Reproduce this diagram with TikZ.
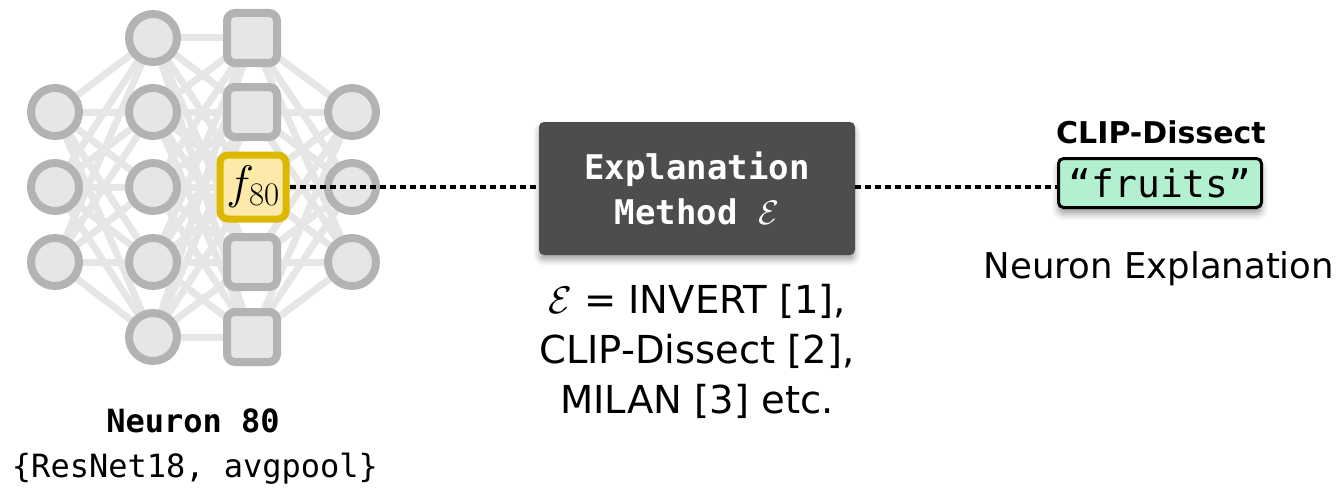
\RequirePackage{fix-cm}
\documentclass[tikz,border=0pt]{standalone}
\usepackage[no-math]{fontspec}
\setmainfont{DejaVu Sans}
\setmonofont{DejaVu Sans Mono}
\usetikzlibrary{shadows.blur}

\definecolor{nodefill}{HTML}{E6E6E6}
\definecolor{nodeline}{HTML}{B3B3B3}
\definecolor{linkgray}{HTML}{E6E6E6}
\definecolor{focusfill}{HTML}{FDE9A9}
\definecolor{focusline}{HTML}{DCB900}
\definecolor{boxgray}{HTML}{4D4D4D}
\definecolor{mint}{HTML}{B2F0D0}

\begin{document}
\begin{tikzpicture}[x=1pt,y=-1pt,
  neuron/.style={circle,draw=nodeline,fill=nodefill,line width=8pt,minimum size=48pt,inner sep=0pt},
  unit/.style={rectangle,rounded corners=8pt,draw=nodeline,fill=nodefill,line width=8pt,minimum size=50pt,inner sep=0pt},
  focus/.style={rectangle,rounded corners=8pt,draw=focusline,fill=focusfill,line width=7pt,
    minimum width=66pt,minimum height=64pt,inner sep=0pt,font=\fontsize{47}{56}\selectfont},
  wire/.style={draw=linkgray,line width=7pt},
  leader/.style={draw=black,line width=4pt,dash pattern=on 6pt off 4pt},
  methodbox/.style={rectangle,rounded corners=5pt,fill=boxgray,minimum width=316pt,minimum height=133pt,
    text=white,align=center,inner sep=0pt,font=\ttfamily\bfseries\fontsize{34}{45}\selectfont,
    blur shadow={shadow xshift=0pt,shadow yshift=-5pt,shadow blur radius=6pt,shadow opacity=35}},
  answer/.style={rectangle,rounded corners=5pt,draw=black,line width=3pt,fill=mint,
    minimum width=203pt,minimum height=49pt,inner sep=0pt,font=\ttfamily\fontsize{38}{46}\selectfont,
    blur shadow={shadow xshift=0pt,shadow yshift=-6pt,shadow blur radius=7pt,shadow opacity=40}},
  caption/.style={anchor=base,inner sep=0pt,font=\fontsize{38.5}{46}\selectfont},
]
\useasboundingbox (0,0) rectangle (1340,487);

% unit positions: input, hidden, probed (avgpool) and output layers
\coordinate (a1) at (55,112);
\coordinate (a2) at (55,187);
\coordinate (a3) at (55,262);
\foreach \j/\y in {1/38,2/112,3/187,4/262,5/337} {
  \coordinate (b\j) at (153,\y);
  \coordinate (c\j) at (252,\y);
}
\coordinate (d1) at (352,112);
\coordinate (d2) at (352,187);
\coordinate (d3) at (352,262);

% fully connected links, drawn first so the units sit on top
\foreach \i in {1,2,3} \foreach \j in {1,...,5} \draw[wire] (a\i) -- (b\j);
\foreach \i in {1,...,5} \foreach \j in {1,...,5} \draw[wire] (b\i) -- (c\j);
\foreach \i in {1,...,5} \foreach \j in {1,2,3} \draw[wire] (c\i) -- (d\j);

% units
\foreach \i in {1,2,3} \node[neuron] (na\i) at (a\i) {};
\foreach \j in {1,...,5} \node[neuron] (nb\j) at (b\j) {};
\foreach \j in {1,2,4,5} \node[unit] (nc\j) at (c\j) {};
\node[focus] (f80) at ([xshift=1pt]c3) {$f_{80}$};
\foreach \i in {1,2,3} \node[neuron] (nd\i) at (d\i) {};

% explanation method
\node[methodbox] (m) at (697,188.5) {Explanation\\Method $\mathcal{E}$};

% resulting explanation
\node[answer] (r) at (1160,183) {“fruits”};
\node[anchor=base,inner sep=0pt,font=\bfseries\fontsize{30}{36}\selectfont] (tag) at (1161,143) {CLIP-Dissect};
\node[anchor=base,inner sep=0pt,font=\fontsize{35.5}{42}\selectfont] (rlabel) at (1159,278) {Neuron Explanation};

% dashed leaders
\draw[leader] (f80.east) -- (f80 -| m.west);
\draw[leader] (m.east |- f80) -- (r.west |- f80);

% method list
\node[caption] (l1) at (697,313) {$\mathcal{E}$ = INVERT [1],};
\node[caption] (l2) at (697,363) {CLIP-Dissect [2],};
\node[caption] (l3) at (697,413) {MILAN [3] etc.};

% neuron caption
\node[anchor=base,inner sep=0pt,font=\ttfamily\bfseries\fontsize{32}{38}\selectfont] (nname) at (193,432) {Neuron 80};
\node[anchor=base,inner sep=0pt,font=\ttfamily\fontsize{32}{38}\selectfont] (nmodel) at (195,477) {\{ResNet18, avgpool\}};
\end{tikzpicture}
\end{document}
